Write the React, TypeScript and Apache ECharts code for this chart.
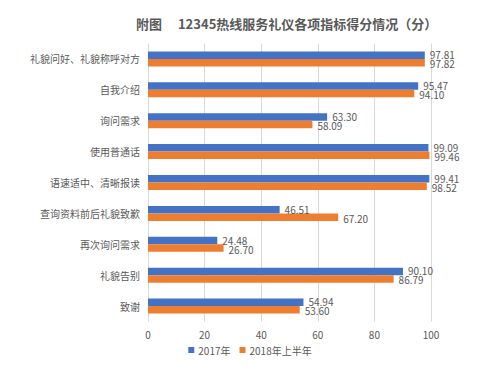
import React, { useEffect, useRef } from "react";
import * as echarts from "echarts";

const categories = [
  "礼貌问好、礼貌称呼对方",
  "自我介绍",
  "询问需求",
  "使用普通话",
  "语速适中、清晰报读",
  "查询资料前后礼貌致歉",
  "再次询问需求",
  "礼貌告别",
  "致谢",
];
const values2017 = [97.81, 95.47, 63.3, 99.09, 99.41, 46.51, 24.48, 90.1, 54.94];
const values2018 = [97.82, 94.1, 58.09, 99.46, 98.52, 67.2, 26.7, 86.79, 53.6];
const seriesNames = ["2017年", "2018年上半年"];
const titleText = "附图　 12345热线服务礼仪各项指标得分情况（分）";

const FONT = '"Noto Sans CJK SC", "Noto Sans", sans-serif';
const GRAY = "#595959";

export default function App() {
  const ref = useRef<HTMLDivElement>(null);
  useEffect(() => {
    if (!ref.current) return;
    const chart = echarts.init(ref.current, null, { renderer: "svg" });
    const makeLabel = (dy: number) => ({
      show: true,
      position: "right",
      distance: 5,
      offset: [0, dy],
      color: GRAY,
      fontSize: 10,
      lineHeight: 9,
      fontFamily: FONT,
      formatter: (p: any) => Number(p.value).toFixed(2),
    });
    chart.setOption({
      animation: false,
      backgroundColor: "#ffffff",
      title: {
        text: titleText,
        left: 131,
        top: 12,
        textStyle: { fontSize: 13, fontWeight: "bold", color: GRAY, fontFamily: FONT },
      },
      legend: {
        data: seriesNames,
        bottom: 12,
        left: "center",
        icon: "rect",
        itemWidth: 6,
        itemHeight: 6,
        itemGap: 9,
        textStyle: { fontSize: 10, color: GRAY, fontFamily: FONT, padding: [0, 0, 0, -1] },
      },
      grid: { left: 148, right: 69, top: 43.5, bottom: 50.5, containLabel: false },
      xAxis: {
        type: "value",
        min: 0,
        max: 100,
        interval: 20,
        axisLine: { show: false },
        axisTick: { show: false },
        splitLine: { lineStyle: { color: "#d9d9d9", width: 1 } },
        axisLabel: { color: GRAY, fontSize: 10, fontFamily: FONT, margin: 8 },
      },
      yAxis: {
        type: "category",
        data: categories,
        inverse: true,
        axisLine: { show: false },
        axisTick: { show: false },
        axisLabel: { color: GRAY, fontSize: 10, fontFamily: FONT, margin: 8 },
      },
      series: [
        {
          name: seriesNames[0],
          type: "bar",
          data: values2017,
          barWidth: 7.5,
          barGap: "0%",
          itemStyle: { color: "#4472C4" },
          label: makeLabel(-0.5),
        },
        {
          name: seriesNames[1],
          type: "bar",
          data: values2018,
          barWidth: 7.5,
          barGap: "0%",
          itemStyle: { color: "#ED7D31" },
          label: makeLabel(1),
        },
      ],
    });
    return () => chart.dispose();
  }, []);
  return <div ref={ref} style={{ width: 500, height: 372, margin: -8 }} />;
}
